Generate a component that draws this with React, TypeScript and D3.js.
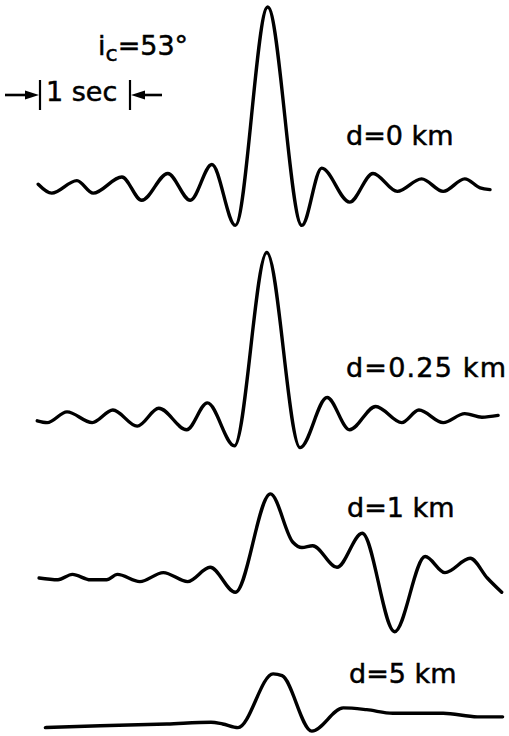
import React from "react";
import * as d3 from "d3";

// Trace labels
const traceLabels = ["d=0 km", "d=0.25 km", "d=1 km", "d=5 km"];

// Trace 1: d = 0 km  (time in s, relative amplitude)
const t0 = [-0.02, 0.13, 0.41, 0.59, 0.91, 1.13, 1.42, 1.67, 1.91, 2.17, 2.53, 2.91, 3.13, 3.44, 3.70, 3.97, 4.24, 4.48, 4.72, 4.89, 5.0];
const a0 = [0.01, -0.04, 0.03, -0.04, 0.05, -0.08, 0.07, -0.08, 0.12, -0.22, 1.0, -0.22, 0.10, -0.09, 0.07, -0.03, 0.04, -0.03, 0.04, -0.01, -0.02];

// Trace 2: d = 0.25 km
const t1 = [-0.03, 0.08, 0.30, 0.58, 0.81, 1.08, 1.32, 1.63, 1.86, 2.16, 2.52, 2.89, 3.19, 3.44, 3.73, 4.02, 4.21, 4.48, 4.72, 4.91, 5.09];
const a1 = [-0.01, -0.02, 0.04, -0.02, 0.05, -0.04, 0.06, -0.06, 0.09, -0.15, 0.93, -0.16, 0.12, -0.06, 0.07, -0.02, 0.05, -0.02, 0.03, 0.01, 0.02];

// Trace 3: d = 1 km
const t2 = [-0.01, 0.20, 0.36, 0.56, 0.74, 0.86, 1.11, 1.37, 1.64, 1.89, 2.17, 2.56, 2.81, 2.91, 3.03, 3.30, 3.58, 3.94, 4.28, 4.50, 4.78, 4.97, 5.13];
const a2 = [0.0, -0.01, 0.02, -0.01, -0.01, 0.02, -0.02, 0.03, -0.02, 0.06, -0.08, 0.47, 0.20, 0.17, 0.18, 0.06, 0.25, -0.30, 0.12, 0.03, 0.11, 0.0, -0.08];

// Trace 4: d = 5 km
const t3 = [0.06, 0.67, 1.41, 1.90, 2.03, 2.20, 2.59, 2.69, 3.02, 3.37, 3.63, 3.92, 4.48, 4.86, 5.14];
const a3 = [-0.02, -0.01, 0.0, 0.01, 0.0, -0.02, 0.28, 0.27, -0.04, 0.09, 0.08, 0.06, 0.06, 0.04, 0.04];

const times = [t0, t1, t2, t3];
const amps = [a0, a1, a2, a3];

// Annotation texts
const angleLabel = { main: "i", sub: "c", rest: "=53°" };
const scaleLabel = "1 sec";
const scaleSeconds = 1;

const W = 509;
const H = 736;
const baselines = [186, 419, 578, 724];
const labelPos = [
  { x: 346, y: 145 },
  { x: 346, y: 377 },
  { x: 347, y: 517 },
  { x: 349, y: 683 },
];

export default function App() {
  const x = d3.scaleLinear().domain([0, 1]).range([40, 130]);
  const amp = d3.scaleLinear().domain([0, 1]).range([0, -179]);

  const font = "'DejaVu Sans', Verdana, sans-serif";
  const textStyle = { stroke: "#000", strokeWidth: 0.5 };

  const lines = times.map((ts, i) => {
    const pts: [number, number][] = ts.map((t, j) => [t, amps[i][j]]);
    const gen = d3
      .line<[number, number]>()
      .x((d) => x(d[0]))
      .y((d) => baselines[i] + amp(d[1]))
      .curve(d3.curveMonotoneX);
    return gen(pts) || "";
  });

  const barY0 = 80;
  const barY1 = 110;
  const arrowY = 95;
  const xL = x(0);
  const xR = x(scaleSeconds);

  return (
    <svg
      width={W}
      height={H}
      style={{ position: "absolute", left: 0, top: 0, background: "#fff" }}
    >
      <rect x={0} y={0} width={W} height={H} fill="#fff" />
      {lines.map((d, i) => (
        <path
          key={i}
          d={d}
          fill="none"
          stroke="#000"
          strokeWidth={3.4}
          strokeLinejoin="round"
          strokeLinecap="round"
        />
      ))}
      {traceLabels.map((lab, i) => (
        <text
          key={lab}
          x={labelPos[i].x}
          y={labelPos[i].y}
          fontFamily={font}
          fontSize={27}
          fill="#000"
          style={textStyle}
          {...(i === 1 ? { textLength: 160, lengthAdjust: "spacing" } : {})}
        >
          {lab}
        </text>
      ))}
      {/* incidence angle */}
      <text x={98} y={55} fontFamily={font} fontSize={27} fill="#000" style={textStyle}>
        {angleLabel.main}
        <tspan fontSize={22} dy={6}>
          {angleLabel.sub}
        </tspan>
        <tspan dy={-6}>{angleLabel.rest}</tspan>
      </text>
      {/* time scale bar */}
      <line x1={xL} x2={xL} y1={barY0} y2={barY1} stroke="#000" strokeWidth={2.2} />
      <line x1={xR} x2={xR} y1={barY0} y2={barY1} stroke="#000" strokeWidth={2.2} />
      <line x1={5} x2={xL - 10} y1={arrowY} y2={arrowY} stroke="#000" strokeWidth={2.6} />
      <path
        d={`M${xL - 1},${arrowY} L${xL - 15},${arrowY - 4.5} L${xL - 15},${arrowY + 4.5} Z`}
        fill="#000"
      />
      <line x1={xR + 10} x2={xR + 32} y1={arrowY} y2={arrowY} stroke="#000" strokeWidth={2.6} />
      <path
        d={`M${xR + 1},${arrowY} L${xR + 15},${arrowY - 4.5} L${xR + 15},${arrowY + 4.5} Z`}
        fill="#000"
      />
      <text x={46} y={101} fontFamily={font} fontSize={27} fill="#000" style={textStyle}>
        {scaleLabel}
      </text>
    </svg>
  );
}
